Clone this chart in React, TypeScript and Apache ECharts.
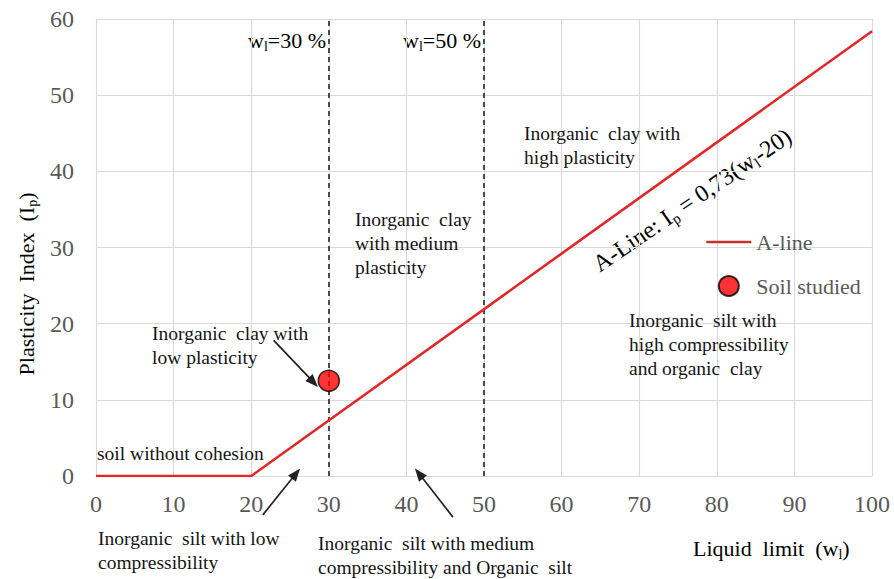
import React, { useEffect, useRef } from "react";
import * as echarts from "echarts";

// ---- data ----
const xTicks = [0, 10, 20, 30, 40, 50, 60, 70, 80, 90, 100];
const yTicks = [0, 10, 20, 30, 40, 50, 60];
const aLineX = [0, 20, 100];
const aLineY = [0, 0, 58.4];
const soilStudied = [[30, 12.5]];
const boundaryWl = [30, 50];
const arrowFrom = [[22.9, 17.8], [21.5, -5.1], [46.0, -5.4]];
const arrowTo = [[28.6, 11.7], [26.3, 1.0], [41.1, 1.0]];

const SERIF = "'Liberation Serif', 'Times New Roman', serif";
const GRAY = "#595959";
const INK = "#151515";

const subRich = (size: number, color: string) => ({
  n: { fontSize: size, fontFamily: SERIF, color },
  s: {
    fontSize: Math.round(size * 0.62),
    fontFamily: SERIF,
    color,
    verticalAlign: "bottom",
    padding: [Math.round(size * 0.55), 0, 0, 0],
  },
});

export default function App() {
  const ref = useRef<HTMLDivElement>(null);
  useEffect(() => {
    if (!ref.current) return;
    const chart = echarts.init(ref.current, undefined, { renderer: "svg" });
    const aLineData = aLineX.map((x, i) => [x, aLineY[i]]);
    const annot = (x: number, y: number, text: string, size = 19.5) => ({
      type: "text",
      x,
      y,
      z: 50,
      style: {
        text,
        fontSize: size,
        fontFamily: SERIF,
        fill: INK,
        lineHeight: 24,
        align: "left",
        verticalAlign: "top",
      },
    });
    const baseGraphics: any[] = [
      {
        type: "text",
        x: 26,
        y: 284,
        rotation: Math.PI / 2,
        style: {
          text: "{n|Plasticity  Index  (I}{s|p}{n|)}",
          rich: subRich(22, GRAY),
          align: "center",
          verticalAlign: "middle",
        },
      },
      {
        type: "text",
        x: 693,
        y: 548,
        style: {
          text: "{n|Liquid  limit  (w}{s|l}{n|)}",
          rich: subRich(22, GRAY),
          align: "left",
          verticalAlign: "middle",
        },
      },
      {
        type: "text",
        x: 326,
        y: 40,
        style: {
          text: "{n|w}{s|l}{n|=30 %}",
          rich: subRich(22, INK),
          align: "right",
          verticalAlign: "middle",
        },
      },
      {
        type: "text",
        x: 481,
        y: 40,
        style: {
          text: "{n|w}{s|l}{n|=50 %}",
          rich: subRich(22, INK),
          align: "right",
          verticalAlign: "middle",
        },
      },
      {
        type: "text",
        x: 692,
        y: 200,
        rotation: 0.6,
        style: {
          text: "{n|A-Line: I}{s|p}{n| = 0,73(w}{s|l}{n|-20)}",
          rich: subRich(24, INK),
          align: "center",
          verticalAlign: "middle",
        },
      },
      annot(524, 121, "Inorganic  clay with\nhigh plasticity"),
      annot(355, 207, "Inorganic  clay\nwith medium\nplasticity"),
      annot(152, 321, "Inorganic  clay with\nlow plasticity"),
      annot(97, 441, "soil without cohesion"),
      annot(629, 308, "Inorganic  silt with\nhigh compressibility\nand organic  clay"),
      annot(98, 526, "Inorganic  silt with low\ncompressibility"),
      annot(318, 531, "Inorganic  silt with medium\ncompressibility and Organic  silt"),
    ];
    chart.setOption({
      animation: false,
      backgroundColor: "#ffffff",
      grid: { left: 96, right: 22, top: 19, bottom: 103, containLabel: false },
      xAxis: {
        type: "value",
        min: xTicks[0],
        max: xTicks[xTicks.length - 1],
        interval: 10,
        axisLine: { show: true, lineStyle: { color: "#d9d9d9" } },
        axisTick: { show: false },
        axisLabel: { fontSize: 24, color: GRAY, fontFamily: SERIF, margin: 16 },
        splitLine: { show: true, lineStyle: { color: "#d9d9d9", width: 1.2 } },
      },
      yAxis: {
        type: "value",
        min: yTicks[0],
        max: yTicks[yTicks.length - 1],
        interval: 10,
        axisLine: { show: true, lineStyle: { color: "#d9d9d9" } },
        axisTick: { show: false },
        axisLabel: { fontSize: 24, color: GRAY, fontFamily: SERIF, margin: 22 },
        splitLine: { show: true, lineStyle: { color: "#d9d9d9", width: 1.2 } },
      },
      legend: {
        data: [
          {
            name: "A-line",
            lineStyle: { color: "#c8302c", width: 2.6 },
            itemStyle: { opacity: 0 },
          },
          { name: "Soil studied" },
        ],
        orient: "vertical",
        left: 705,
        top: 231,
        padding: 0,
        itemWidth: 45,
        itemHeight: 20,
        itemGap: 22,
        textStyle: { fontSize: 22, color: GRAY, fontFamily: SERIF },
        selectedMode: false,
      },
      series: [
        {
          name: "A-line",
          type: "line",
          data: aLineData,
          symbol: "none",
          lineStyle: { color: "#e32626", width: 2.6 },
          itemStyle: { color: "#e32626" },
          z: 5,
          markLine: {
            silent: true,
            symbol: ["none", "none"],
            label: { show: false },
            lineStyle: { color: "#222", type: [5, 4], width: 1.6 },
            data: boundaryWl.map((v) => ({ xAxis: v })),
          },
        },
        {
          name: "Soil studied",
          type: "scatter",
          data: soilStudied,
          symbol: "circle",
          symbolSize: 21,
          itemStyle: { color: "#ff0000", borderColor: "#000", borderWidth: 1.5 },
          z: 10,
        },
      ],
      graphic: baseGraphics,
    });

    // linear mapping from the chart's own scales (no clamping outside the grid)
    const xMin = xTicks[0];
    const xMax = xTicks[xTicks.length - 1];
    const yMin = yTicks[0];
    const yMax = yTicks[yTicks.length - 1];
    const a = chart.convertToPixel({ gridIndex: 0 }, [xMin, yMin]) as number[];
    const b = chart.convertToPixel({ gridIndex: 0 }, [xMax, yMax]) as number[];
    const toPx = (p: number[]) => [
      a[0] + ((p[0] - xMin) / (xMax - xMin)) * (b[0] - a[0]),
      a[1] + ((p[1] - yMin) / (yMax - yMin)) * (b[1] - a[1]),
    ];

    const arrowGraphics: any[] = [];
    arrowFrom.forEach((f, i) => {
      const p0 = toPx(f);
      const p1 = toPx(arrowTo[i]);
      const dx = p1[0] - p0[0];
      const dy = p1[1] - p0[1];
      const len = Math.hypot(dx, dy);
      const ux = dx / len;
      const uy = dy / len;
      const hl = 13;
      const hw = 5;
      const bx = p1[0] - ux * hl;
      const by = p1[1] - uy * hl;
      arrowGraphics.push({
        type: "line",
        z: 40,
        shape: { x1: p0[0], y1: p0[1], x2: bx + ux * 2, y2: by + uy * 2 },
        style: { stroke: "#222", lineWidth: 1.7 },
      });
      arrowGraphics.push({
        type: "polygon",
        z: 40,
        shape: {
          points: [
            [p1[0], p1[1]],
            [bx - uy * hw, by + ux * hw],
            [bx + uy * hw, by - ux * hw],
          ],
        },
        style: { fill: "#222" },
      });
    });
    chart.setOption({ graphic: [...baseGraphics, ...arrowGraphics] });

    return () => chart.dispose();
  }, []);
  return (
    <div
      ref={ref}
      style={{ position: "absolute", left: 0, top: 0, width: 894, height: 579 }}
    />
  );
}
